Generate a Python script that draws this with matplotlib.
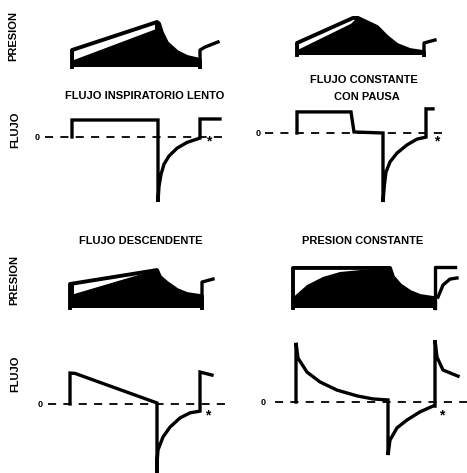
import numpy as np
import matplotlib
matplotlib.use("Agg")
import matplotlib.pyplot as plt

W, H = 467, 473
PX_PER_S = 100.0      # horizontal scale, px per second
PX_PER_FLOW = 34.0    # px per L/s
PX_PER_P = 1.5        # px per cmH2O

# ---- flujo inspiratorio lento ----
lento_flow_t = [0, 0, 0.86, 0.86, 0.87, 0.89, 0.92, 0.97, 1.05, 1.15, 1.25, 1.28, 1.28, 1.48]
lento_flow = [0, 0.5, 0.5, -1.91, -1.45, -1.1, -0.8, -0.56, -0.33, -0.16, -0.06, -0.03, 0.53, 0.53]
lento_paw_t = [0, 0, 0.85, 0.87, 0.90, 0.95, 1.05, 1.15, 1.28, 1.28]
lento_paw = [0, 11.3, 30, 29, 22.7, 16, 10, 6.7, 4.7, 0]
lento_alv_t = [0.02, 0.83]
lento_alv = [4.7, 25]
lento_next_t = [1.28, 1.28, 1.33, 1.46]
lento_next = [0, 11.3, 13.3, 16.7]

# ---- flujo constante con pausa ----
pausa_flow_t = [0, 0, 0.54, 0.57, 0.86, 0.86, 0.875, 0.89, 0.93, 1.00, 1.10, 1.20, 1.29, 1.29, 1.36]
pausa_flow = [0, 0.62, 0.62, 0.03, 0, -2.03, -1.5, -1.15, -0.85, -0.59, -0.35, -0.18, -0.12, 0.71, 0.71]
pausa_paw_t = [0, 0, 0.56, 0.61, 0.80, 0.90, 1.00, 1.13, 1.26, 1.27, 1.27]
pausa_paw = [0, 8, 24.7, 24.7, 18.7, 12, 6.7, 3.3, 2, 2, 0]
pausa_alv_t = [0.02, 0.54, 0.60]
pausa_alv = [3.8, 20.8, 24.7]
pausa_next_t = [1.27, 1.27, 1.38]
pausa_next = [0, 8, 10]

# ---- flujo descendente ----
desc_flow_t = [0, 0, 0.05, 0.87, 0.87, 0.87, 0.88, 0.93, 1.00, 1.10, 1.20, 1.30, 1.30, 1.42]
desc_flow = [0, 0.91, 0.90, 0.03, -2.2, -1.75, -1.35, -0.97, -0.68, -0.41, -0.26, -0.21, 0.94, 0.85]
desc_paw_t = [0, 0, 0.87, 0.90, 0.97, 1.07, 1.17, 1.30, 1.32, 1.32]
desc_paw = [0, 16, 25.3, 20.7, 16.7, 12, 9.3, 8, 8, 0]
desc_alv_t = [0.04, 0.76]
desc_alv = [9.3, 23.5]
desc_next_t = [1.32, 1.32, 1.43]
desc_next = [0, 17.3, 19.3]

# ---- presion constante ----
pcte_flow_t = [0.01, 0.01, 0.03, 0.12, 0.25, 0.42, 0.62, 0.78, 0.93, 0.93, 0.95, 1.02,
               1.12, 1.25, 1.38, 1.40, 1.40, 1.42, 1.48, 1.63]
pcte_flow = [0, 1.74, 1.29, 0.88, 0.59, 0.35, 0.18, 0.09, 0.06, -1.56, -1.12, -0.76,
             -0.53, -0.29, -0.12, -0.12, 1.82, 1.32, 0.94, 0.76]
pcte_paw_t = [-0.02, -0.02, 0.95, 0.98, 1.05, 1.15, 1.25, 1.38, 1.40, 1.40]
pcte_paw = [0, 26.7, 26.7, 20.7, 15.3, 10.7, 8, 6.7, 6.7, 0]
pcte_alv_t = [-0.02, 0.12, 0.28, 0.45, 0.65, 0.85, 0.95]
pcte_alv = [7, 15.3, 20.7, 24, 25.3, 26.2, 26.7]
pcte_next_t = [1.40, 1.40, 1.60]
pcte_next = [0, 27.3, 27.3]
pcte_alv_next_t = [1.43, 1.48, 1.55, 1.62]
pcte_alv_next = [7.3, 15.3, 19.3, 20]

LW = 2.4
plt.rcParams['font.family'] = ['Liberation Sans', 'DejaVu Sans']

fig = plt.figure(figsize=(W / 100, H / 100), dpi=100)


def make_axes(box, x0, ybase, px_per_unit):
    left, right, top, bottom = box
    ax = fig.add_axes([left / W, 1 - bottom / H, (right - left) / W, (bottom - top) / H])
    ax.set_xlim((left - x0) / PX_PER_S, (right - x0) / PX_PER_S)
    ax.set_ylim((ybase - bottom) / px_per_unit, (ybase - top) / px_per_unit)
    ax.axis("off")
    return ax


def draw_pressure(ax, paw_t, paw, alv_t, alv, next_t, next_p):
    ax.fill(paw_t, paw, color="black", lw=0)
    # white gap between airway pressure and alveolar pressure
    xp, fp = np.array(paw_t[1:-1]), np.array(paw[1:-1])
    inner = [t for t in xp if alv_t[0] < t < alv_t[-1]]
    top_t = [alv_t[0]] + inner + [alv_t[-1]]
    top_p = np.interp(top_t, xp, fp)
    band_t = list(top_t) + list(alv_t[::-1])
    band_p = list(top_p) + list(alv[::-1])
    ax.fill(band_t, band_p, color="white", lw=0)
    ax.plot(paw_t, paw, color="black", lw=LW + 0.4, solid_joinstyle="round")
    ax.plot(next_t, next_p, color="black", lw=LW, solid_joinstyle="round")


def draw_flow(ax, flow_t, flow, zero_span, zero_label_t, star_xy):
    ax.plot(zero_span, [0, 0], color="black", lw=1.3, dashes=(4.5, 4))
    ax.plot(flow_t, flow, color="black", lw=LW, solid_joinstyle="miter")
    ax.text(zero_label_t, 0, "0", fontsize=6.5, fontweight="bold", ha="center", va="center")
    ax.text(star_xy[0], star_xy[1], "*", fontsize=10, fontweight="bold", ha="center", va="center")


def label(x, y, s, rot=0):
    fig.text(x / W, 1 - y / H, s, fontsize=8, fontweight="bold",
             ha="center", va="center", rotation=rot)


LEFT, RIGHT = (25, 235), (245, 467)

# top-left
ax = make_axes((*LEFT, 5, 78), 72, 67, PX_PER_P)
draw_pressure(ax, lento_paw_t, lento_paw, lento_alv_t, lento_alv, lento_next_t, lento_next)
ax = make_axes((*LEFT, 100, 215), 72, 137, PX_PER_FLOW)
draw_flow(ax, lento_flow_t, lento_flow, [-0.27, 1.53], -0.35, (1.37, -0.12))

# top-right
ax = make_axes((*RIGHT, 5, 70), 297, 55, PX_PER_P)
draw_pressure(ax, pausa_paw_t, pausa_paw, pausa_alv_t, pausa_alv, pausa_next_t, pausa_next)
ax = make_axes((*RIGHT, 100, 215), 297, 133, PX_PER_FLOW)
draw_flow(ax, pausa_flow_t, pausa_flow, [-0.32, 1.48], -0.39, (1.40, -0.24))

# bottom-left
ax = make_axes((*LEFT, 250, 320), 70, 308, PX_PER_P)
draw_pressure(ax, desc_paw_t, desc_paw, desc_alv_t, desc_alv, desc_next_t, desc_next)
ax = make_axes((*LEFT, 330, 473), 70, 404, PX_PER_FLOW)
draw_flow(ax, desc_flow_t, desc_flow, [-0.22, 1.55], -0.30, (1.38, -0.35))

# bottom-right
ax = make_axes((*RIGHT, 250, 320), 295, 308, PX_PER_P)
draw_pressure(ax, pcte_paw_t, pcte_paw, pcte_alv_t, pcte_alv, pcte_next_t, pcte_next)
ax.plot(pcte_alv_next_t, pcte_alv_next, color="black", lw=LW)
ax = make_axes((*RIGHT, 330, 473), 295, 402, PX_PER_FLOW)
draw_flow(ax, pcte_flow_t, pcte_flow, [-0.20, 1.75], -0.32, (1.47, -0.41))

# titles and row labels
label(145, 96, "FLUJO INSPIRATORIO LENTO")
label(364, 80, "FLUJO CONSTANTE")
label(367, 97, "CON PAUSA")
label(141, 241, "FLUJO DESCENDENTE")
label(363, 241, "PRESION CONSTANTE")
label(13, 36, "PRESION", 90)
label(15, 130, "FLUJO", 90)
label(14, 280, "PRESION", 90)
label(15, 374, "FLUJO", 90)

fig.savefig("out.png", dpi=100, facecolor="white")
